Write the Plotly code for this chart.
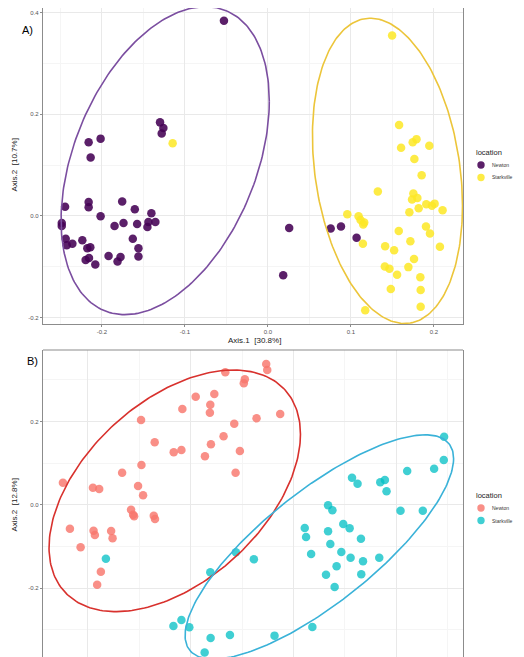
import numpy as np
import plotly.graph_objects as go

# ---------------- Panel A data ----------------
a_newton_x = [-0.053, -0.130, -0.126, -0.128, -0.216, -0.2016, -0.2136, -0.2444, -0.216, -0.216,
              -0.1756, -0.1604, -0.1404, -0.2016, -0.2484, -0.2484, -0.1848, -0.174, -0.1576, -0.144,
              -0.1356, -0.1452, -0.2436, -0.2424, -0.2356, -0.2236, -0.2176, -0.214, -0.1628, -0.156,
              -0.2196, -0.2156, -0.208, -0.192, -0.1812, -0.1776, -0.156,
              0.0256, 0.0756, 0.088, 0.1068, 0.0184]
a_newton_y = [0.384, 0.184, 0.173, 0.162, 0.145, 0.152, 0.115, 0.018, 0.027, 0.017,
              0.028, 0.013, 0.005, -0.001, -0.014, -0.020, -0.020, -0.014, -0.016, -0.012,
              -0.012, -0.022, -0.045, -0.058, -0.055, -0.048, -0.064, -0.062, -0.045, -0.064,
              -0.087, -0.083, -0.096, -0.079, -0.090, -0.081, -0.080,
              -0.024, -0.025, -0.021, -0.043, -0.117]
a_stark_x = [-0.1148, 0.1496, 0.158, 0.1744, 0.179, 0.1604, 0.1944, 0.1764, 0.1852, 0.1324,
             0.1752, 0.1736, 0.18, 0.1908, 0.1976, 0.2008, 0.1816, 0.1704, 0.2104, 0.0956,
             0.1092, 0.1116, 0.116, 0.1148, 0.1576, 0.1904, 0.1952, 0.1144, 0.1412, 0.152,
             0.1716, 0.2072, 0.176, 0.1408, 0.1464, 0.1692, 0.1556, 0.1836, 0.148, 0.184,
             0.184, 0.1172]
a_stark_y = [0.143, 0.355, 0.179, 0.145, 0.151, 0.134, 0.138, 0.112, 0.080, 0.048,
             0.044, 0.032, 0.035, 0.023, 0.020, 0.024, 0.015, 0.007, 0.011, 0.003,
             -0.001, -0.008, -0.013, -0.017, -0.030, -0.021, -0.035, -0.055, -0.060, -0.068,
             -0.050, -0.061, -0.085, -0.100, -0.104, -0.101, -0.116, -0.121, -0.144, -0.146,
             -0.179, -0.186]

# ellipse: centre (x, y) and shape matrix [Mxx, Mxy, Myy]
a_newton_ell_c = [-0.1238, 0.1086]
a_newton_ell_m = [0.01573, 0.0147, 0.09193]
a_stark_ell_c = [0.144, 0.0885]
a_stark_ell_m = [0.00817, -0.0062, 0.0903]

# ---------------- Panel B data ----------------
b_newton_x = [-0.0265, -0.0255, -0.0663, -0.0473, -0.0483, -0.0951, -0.077, -0.0809, -0.0813, -0.1081,
              -0.1483, -0.0359, -0.0576, -0.135, -0.068, -0.0803, -0.1165, -0.109, -0.0861, -0.0521,
              -0.0563, -0.1479, -0.1667, -0.2243, -0.1951, -0.189, -0.1512, -0.1463, -0.158, -0.156,
              -0.155, -0.1359, -0.1347, -0.2175, -0.1945, -0.1932, -0.1774, -0.176, -0.2071, -0.1874,
              -0.191, -0.0129]
b_newton_y = [0.3384, 0.324, 0.3185, 0.3017, 0.292, 0.26, 0.2664, 0.2407, 0.2215, 0.2304,
              0.204, 0.2081, 0.1951, 0.1505, 0.1649, 0.1457, 0.1265, 0.132, 0.1169, 0.1296,
              0.0775, 0.096, 0.0775, 0.0535, 0.0415, 0.0384, 0.0456, 0.0233, -0.0113, -0.0233,
              -0.0271, -0.0257, -0.0336, -0.0569, -0.0617, -0.072, -0.0624, -0.0799, -0.1015, -0.1601,
              -0.1913, 0.2184]
b_stark_x = [-0.1825, -0.056, -0.0385, -0.0809, -0.1168, -0.109, -0.1013, -0.0806, -0.0618, -0.0864,
             0.1466, 0.1463, 0.1369, 0.1107, 0.057, 0.0624, 0.0845, 0.089, 0.0906, 0.0337,
             0.0379, 0.1042, 0.1259, 0.0485, 0.0547, 0.011, 0.0123, 0.0337, 0.0657, 0.0359,
             0.0172, 0.0466, 0.0556, 0.0677, 0.0835, 0.042, 0.0317, 0.066, 0.0401, 0.0184,
             -0.0184]
b_stark_y = [-0.1289, -0.1135, -0.1303, -0.1615, -0.2904, -0.276, -0.2935, -0.3192, -0.312, -0.3544,
             0.1639, 0.108, 0.0871, 0.0816, 0.0655, 0.0511, 0.0545, 0.06, 0.0329, -0.0007,
             -0.0127, -0.0137, -0.0137, -0.0456, -0.0559, -0.0552, -0.0768, -0.0631, -0.0809, -0.0936,
             -0.1176, -0.1128, -0.1265, -0.1351, -0.1265, -0.1471, -0.1673, -0.1663, -0.1968, -0.2928,
             -0.3137]
b_newton_ell_c = [-0.1155, 0.034]
b_newton_ell_m = [0.014965, 0.01661, 0.08411]
b_stark_ell_c = [0.0252, -0.1008]
b_stark_ell_m = [0.017067, 0.02771, 0.07249]

groups = ["Newton", "Starkville"]
legend_title = "location"
a_tick_x = [-0.2, -0.1, 0.0, 0.1, 0.2]
a_tick_x_text = ["-0.2", "-0.1", "0.0", "0.1", "0.2"]
a_tick_y = [-0.2, 0.0, 0.2, 0.4]
a_tick_y_text = ["-0.2", "0.0", "0.2", "0.4"]
b_tick_y = [-0.2, 0.0, 0.2]
b_tick_y_text = ["-0.2", "0.0", "0.2"]

a_colors = ["rgba(68,1,84,0.88)", "rgba(253,231,37,0.85)"]
a_ell_colors = ["#7b4ea0", "#ecc53a"]
b_colors = ["rgba(248,118,109,0.82)", "rgba(0,191,196,0.75)"]
b_ell_colors = ["#d8312d", "#3ab2d8"]


def ellipse(c, m, n=240):
    M = np.array([[m[0], m[1]], [m[1], m[2]]])
    L = np.linalg.cholesky(M)
    t = np.linspace(0, 2 * np.pi, n)
    u = np.vstack([np.cos(t), np.sin(t)])
    p = L @ u
    return c[0] + p[0], c[1] + p[1]


# page has an 8px body margin; figure is placed at (8, 8)
OFF = 8
FW, FH = 508, 649


def fx(px):
    return (px - OFF) / FW


def fy(py):
    return min(1.0, max(0.0, 1 - (py - OFF) / FH))


xd = [fx(43), fx(463)]
yA = [fy(324), 1.0]
yB = [0.0, fy(350)]

FONT = "Liberation Sans, Arial, sans-serif"
fig = go.Figure()

pt_size = 8.5
# Panel A
for xs, ys, col in [(a_newton_x, a_newton_y, a_colors[0]), (a_stark_x, a_stark_y, a_colors[1])]:
    fig.add_trace(go.Scatter(x=xs, y=ys, mode="markers", showlegend=False,
                             marker=dict(size=pt_size, color=col, line=dict(width=0)),
                             xaxis="x", yaxis="y"))
for c, m, col in [(a_newton_ell_c, a_newton_ell_m, a_ell_colors[0]),
                  (a_stark_ell_c, a_stark_ell_m, a_ell_colors[1])]:
    ex, ey = ellipse(c, m)
    fig.add_trace(go.Scatter(x=ex, y=ey, mode="lines", line=dict(color=col, width=1.6),
                             showlegend=False, hoverinfo="skip", xaxis="x", yaxis="y"))

# Panel B
for xs, ys, col in [(b_newton_x, b_newton_y, b_colors[0]), (b_stark_x, b_stark_y, b_colors[1])]:
    fig.add_trace(go.Scatter(x=xs, y=ys, mode="markers", showlegend=False,
                             marker=dict(size=pt_size, color=col, line=dict(width=0)),
                             xaxis="x2", yaxis="y2"))
for c, m, col in [(b_newton_ell_c, b_newton_ell_m, b_ell_colors[0]),
                  (b_stark_ell_c, b_stark_ell_m, b_ell_colors[1])]:
    ex, ey = ellipse(c, m)
    fig.add_trace(go.Scatter(x=ex, y=ey, mode="lines", line=dict(color=col, width=1.6),
                             showlegend=False, hoverinfo="skip", xaxis="x2", yaxis="y2"))

grid_major = "#e9e9e9"
grid_minor = "#f5f5f5"
border = "#8c8c8c"
tickfont = dict(family=FONT, size=6, color="#555555")

common = dict(showgrid=True, gridcolor=grid_major, gridwidth=1, zeroline=False,
              tickcolor=border, tickwidth=1, tickfont=tickfont, fixedrange=True)

fig.update_layout(
    width=FW, height=FH, autosize=False, margin=dict(l=0, r=0, t=0, b=0),
    paper_bgcolor="white", plot_bgcolor="white",
    font=dict(family=FONT, color="#222222"),
    showlegend=False,
    xaxis=dict(domain=xd, range=[-0.271, 0.235], anchor="y",
               tickvals=a_tick_x, ticktext=a_tick_x_text, ticks="outside", ticklen=2,
               minor=dict(dtick=0.05, tick0=0, showgrid=True, gridcolor=grid_minor, gridwidth=0.6, ticks=""),
               showline=True, mirror=True, linecolor=border, linewidth=1.2, **common),
    yaxis=dict(domain=yA, range=[-0.213, 0.4092], anchor="x",
               tickvals=a_tick_y, ticktext=a_tick_y_text, ticks="outside", ticklen=2,
               minor=dict(dtick=0.1, tick0=0, showgrid=True, gridcolor=grid_minor, gridwidth=0.6, ticks=""),
               showline=True, mirror=True, linecolor=border, linewidth=1.2, **common),
    xaxis2=dict(domain=xd, range=[-0.2437, 0.165], anchor="y2",
                dtick=0.1, tick0=0, showticklabels=False, ticks="",
                minor=dict(dtick=0.05, tick0=0, showgrid=True, gridcolor=grid_minor, gridwidth=0.6, ticks=""),
                showline=False, **common),
    yaxis2=dict(domain=yB, range=[-0.365, 0.372], anchor="x2",
                tickvals=b_tick_y, ticktext=b_tick_y_text, ticks="outside", ticklen=2,
                minor=dict(dtick=0.1, tick0=0, showgrid=True, gridcolor=grid_minor, gridwidth=0.6, ticks=""),
                showline=True, mirror=True, linecolor=border, linewidth=1.2, **common),
)

# top border of panel B
fig.add_shape(type="line", xref="x2 domain", yref="y2 domain", x0=0, x1=1, y0=1, y1=1,
              line=dict(color=border, width=1.2))

ann = [
    dict(text="A)", x=fx(20), y=fy(30), size=11, color="black", xanchor="left", angle=0),
    dict(text="B)", x=fx(25), y=fy(361), size=11, color="black", xanchor="left", angle=0),
    dict(text="Axis.1  [30.8%]", x=fx(254), y=fy(340.5), size=8, color="#222222", xanchor="center", angle=0),
    dict(text="Axis.2  [10.7%]", x=fx(13.5), y=fy(165), size=8, color="#222222", xanchor="center", angle=-90),
    dict(text="Axis.2  [12.8%]", x=fx(13.5), y=fy(505), size=8, color="#222222", xanchor="center", angle=-90),
]
for a in ann:
    fig.add_annotation(xref="paper", yref="paper", showarrow=False, yanchor="middle",
                       xanchor=a["xanchor"], x=a["x"], y=a["y"], text=a["text"], textangle=a["angle"],
                       font=dict(family=FONT, size=a["size"], color=a["color"]))


# manual legends (ggplot-style)
def add_legend(top_py, colors):
    fig.add_annotation(xref="paper", yref="paper", showarrow=False, xanchor="left", yanchor="middle",
                       x=fx(474), y=fy(top_py), text=legend_title,
                       font=dict(family=FONT, size=7.5, color="#222222"))
    for i, (g, col) in enumerate(zip(groups, colors)):
        cy = top_py + 12.5 + i * 12.5
        r = 3.7
        fig.add_shape(type="circle", xref="paper", yref="paper",
                      x0=fx(481 - r), x1=fx(481 + r), y0=fy(cy + r), y1=fy(cy - r),
                      fillcolor=col, line=dict(width=0))
        fig.add_annotation(xref="paper", yref="paper", showarrow=False, xanchor="left", yanchor="middle",
                           x=fx(490), y=fy(cy), text=g,
                           font=dict(family=FONT, size=5, color="#333333"))


add_legend(152.5, a_colors)
add_legend(495.5, b_colors)

fig.write_html("out.html")
